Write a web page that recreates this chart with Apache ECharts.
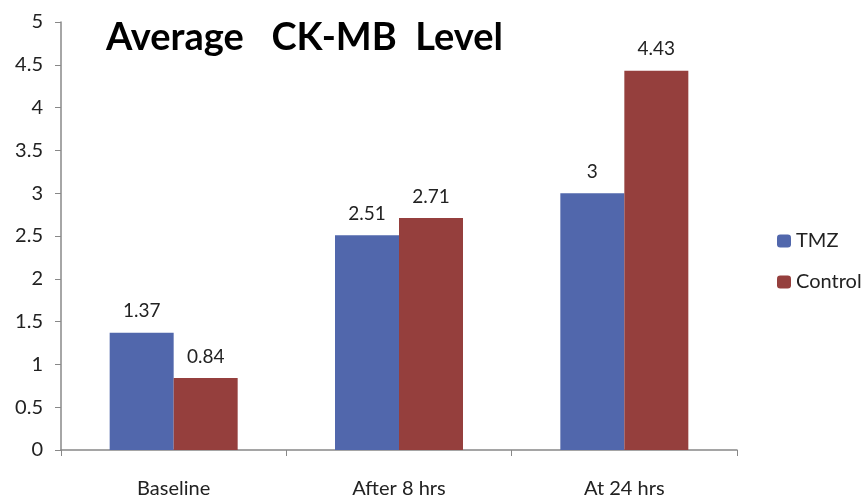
<!DOCTYPE html>
<html><head><meta charset="utf-8">
<script src="https://cdn.jsdelivr.net/npm/echarts@6/dist/echarts.min.js"></script>
<style>html,body{margin:0;padding:0;background:#fff}#c{width:861px;height:499px}</style>
</head><body><div id="c"></div>
<script>
const categories = ["Baseline", "After 8 hrs", "At 24 hrs"];
const tmz = [1.37, 2.51, 3];
const control = [0.84, 2.71, 4.43];
const titleText = "Average   CK-MB  Level";
const font = "Lato, 'Open Sans', sans-serif";
const chart = echarts.init(document.getElementById('c'));
const labelCfg = {show: true, position: 'top', distance: 12, color: '#222', fontSize: 19, fontFamily: font};
chart.setOption({
  animation: false,
  title: {text: titleText, left: 101, top: 14, textStyle: {fontSize: 38, fontWeight: 'bold', color: '#000', fontFamily: font}},
  grid: {left: 61, right: 124, top: 22, bottom: 48, containLabel: false},
  legend: {orient: 'vertical', left: 772, top: 226, itemWidth: 14, itemHeight: 13, itemGap: 21,
    textStyle: {fontSize: 20, color: '#222', fontFamily: font}, data: ['TMZ', 'Control']},
  xAxis: {type: 'category', data: categories,
    axisLine: {lineStyle: {color: '#888', width: 1.5}},
    axisTick: {show: true, alignWithLabel: false, length: 6, inside: false, lineStyle: {color: '#888'}},
    axisLabel: {fontSize: 20, color: '#222', margin: 29, fontFamily: font}},
  yAxis: {type: 'value', min: 0, max: 5, interval: 0.5, splitLine: {show: false},
    axisLine: {show: true, lineStyle: {color: '#888', width: 1.5}},
    axisTick: {show: true, length: 6, lineStyle: {color: '#888'}},
    axisLabel: {fontSize: 20, color: '#222', margin: 18, fontFamily: font}},
  series: [
    {name: 'TMZ', type: 'bar', data: tmz, barWidth: 64, barGap: '0%', itemStyle: {color: '#5167AC'}, label: labelCfg},
    {name: 'Control', type: 'bar', data: control, barWidth: 64, barGap: '0%', itemStyle: {color: '#953F3D'}, label: labelCfg}
  ]
});
</script></body></html>
